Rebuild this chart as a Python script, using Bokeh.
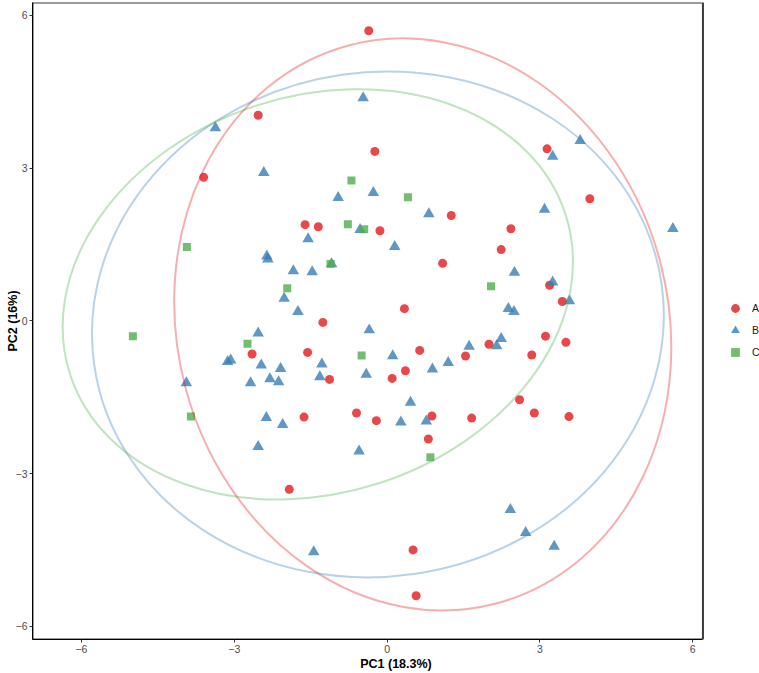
from bokeh.plotting import figure
from bokeh.models import Range1d, FixedTicker, Legend, LegendItem
from bokeh.embed import file_html
from bokeh.resources import INLINE

# ---- data ----
groups = ["A", "B", "C"]
colors = ["#E41A1C", "#377EB8", "#4DAF4A"]
markers = ["circle", "triangle", "square"]

a_pc1 = [-0.36, -2.53, -0.24, -3.60, -1.61, -1.35, -0.14, -1.26, 3.14, 1.26,
         3.98, 2.43, 2.24, 1.09, 3.19, 0.34, 3.44, 3.11, 3.51, 2.00,
         1.54, 2.84, 0.64, 0.36, 0.10, 2.60, 2.89, 3.57, 1.66, 0.88,
         0.81, 0.51, 0.57, -0.21, -2.65, -1.56, -1.13, -1.63, -0.60, -1.92]
a_pc2 = [5.70, 4.04, 3.33, 2.82, 1.89, 1.85, 1.77, -0.03, 3.38, 2.07,
         2.40, 1.81, 1.40, 1.13, 0.70, 0.24, 0.38, -0.30, -0.42, -0.46,
         -0.69, -0.67, -0.58, -0.98, -1.13, -1.55, -1.81, -1.88, -1.91, -1.87,
         -2.32, -4.50, -5.40, -1.96, -0.65, -0.62, -1.15, -1.89, -1.81, -3.31]

b_pc1 = [-0.47, -3.37, -2.42, -0.27, -0.96, -0.53, -1.55, -2.36, -2.34, -1.84,
         -1.47, -1.09, -2.02, -1.75, -2.53, -0.35, 3.79, 3.25, 0.82, 3.09,
         5.61, 0.15, 2.50, 3.25, 3.58, 2.38, 2.49, 2.24, 2.15, 1.61,
         0.11, 1.20, 0.89, 0.46, 0.77, 0.27, 2.42, 2.72, 3.28, -3.13,
         -3.07, -2.47, -2.09, -1.28, -3.94, -2.68, -2.30, -2.13, -1.32, -0.41,
         -2.37, -2.05, -2.53, -0.55, -1.44]
b_pc2 = [4.38, 3.79, 2.91, 2.52, 2.42, 1.79, 1.61, 1.27, 1.21, 0.98,
         0.96, 1.12, 0.44, 0.18, -0.24, -0.18, 3.54, 3.23, 2.10, 2.19,
         1.81, 1.46, 0.95, 0.76, 0.39, 0.24, 0.18, -0.35, -0.49, -0.50,
         -0.69, -0.82, -0.95, -1.60, -1.97, -1.99, -3.71, -4.16, -4.43, -0.80,
         -0.77, -0.87, -0.94, -0.85, -1.22, -1.22, -1.14, -1.20, -1.10, -1.05,
         -1.90, -2.04, -2.47, -2.56, -4.54]

c_pc1 = [-0.70, -0.77, -0.45, -3.93, -1.11, -1.96, -4.99, 0.41, 2.04, -2.74,
         -0.50, -3.85, 0.85]
c_pc2 = [2.76, 1.90, 1.80, 1.45, 1.12, 0.64, -0.30, 2.43, 0.68, -0.45,
         -0.68, -1.88, -2.68]

# 95% ellipses (centre, full axes, rotation in degrees)
ell_x = [0.70, -0.18, -1.36]
ell_y = [-0.07, -0.07, 0.52]
ell_w = [9.64, 11.25, 10.22]
ell_h = [11.34, 9.91, 7.80]
ell_angle = [14.7, 8.2, 17.9]

# panel limits
x_lo, x_hi = -6.96, 6.20
y_lo, y_hi = -6.26, 6.255
x_canvas_hi = 7.31   # frame extended under the legend area

pcs = [(a_pc1, a_pc2), (b_pc1, b_pc2), (c_pc1, c_pc2)]
sizes = [9, 11.5, 8]

FONT = "Liberation Sans"

p = figure(width=759, height=673,
           x_range=Range1d(x_lo, x_canvas_hi), y_range=Range1d(y_lo, y_hi),
           output_backend="svg", toolbar_location=None,
           min_border_left=32, min_border_right=0,
           min_border_top=2, min_border_bottom=34)

p.xgrid.visible = False
p.ygrid.visible = False
p.background_fill_color = "white"
p.border_fill_color = "white"
p.outline_line_color = None

renderers = []
for (xs, ys), col, mk, sz in zip(pcs, colors, markers, sizes):
    r = p.scatter(xs, ys, marker=mk, size=sz, fill_color=col, line_color=None,
                  fill_alpha=0.8)
    renderers.append(r)

for i in range(3):
    p.ellipse(x=[ell_x[i]], y=[ell_y[i]], width=[ell_w[i]], height=[ell_h[i]],
              angle=[ell_angle[i]], angle_units="deg",
              fill_color=None, line_color=colors[i], line_alpha=0.35, line_width=2)

# panel border (top / right)
p.quad(left=[x_lo], right=[x_hi], bottom=[y_lo], top=[y_hi],
       fill_color=None, line_color="#3a3a3a", line_width=2)

for ax in (p.xaxis[0], p.yaxis[0]):
    ax.ticker = FixedTicker(ticks=[-6, -3, 0, 3, 6])
    ax.axis_line_color = "black"
    ax.axis_line_width = 1
    ax.major_tick_line_color = "#333333"
    ax.major_tick_in = 0
    ax.major_tick_out = 3
    ax.minor_tick_line_color = None
    ax.major_label_text_font = FONT
    ax.major_label_text_font_size = "10.5px"
    ax.major_label_text_color = "#4D4D4D"
    ax.major_label_standoff = 2
    ax.axis_label_text_font = FONT
    ax.axis_label_text_font_size = "12.5px"
    ax.axis_label_text_font_style = "bold"
    ax.axis_label_text_color = "black"

p.xaxis.axis_label = "PC1 (18.3%)"
p.xaxis.axis_label_standoff = 1
p.xaxis.bounds = (x_lo, x_hi)
p.yaxis.axis_label = "PC2 (16%)"
p.yaxis.axis_label_standoff = -7

items = [LegendItem(label=g, renderers=[r]) for g, r in zip(groups, renderers)]
legend = Legend(items=items, location=(691, 276), orientation="vertical",
                padding=0, margin=0, spacing=0,
                glyph_width=24, glyph_height=22, label_height=22,
                label_standoff=5,
                label_text_font=FONT, label_text_font_size="10.5px",
                label_text_color="#1A1A1A",
                background_fill_alpha=0, border_line_color=None)
p.add_layout(legend, "center")

open("out.html", "w").write(file_html(p, INLINE))
